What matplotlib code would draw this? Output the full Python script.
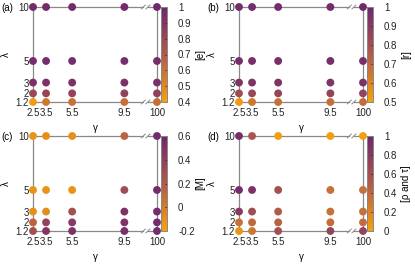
import matplotlib
matplotlib.use("Agg")
import matplotlib.pyplot as plt
import numpy as np
from matplotlib.colors import LinearSegmentedColormap, Normalize
from matplotlib.cm import ScalarMappable
import matplotlib.transforms as mtransforms

plt.rcParams['font.family'] = ['Liberation Sans', 'DejaVu Sans']

gamma_labels = ["2.5", "3.5", "5.5", "9.5", "100"]
gamma_pos = [2.5, 3.5, 5.5, 9.5, 12.0]
lam_vals = [1.2, 2, 3, 5, 10]
lam_labels = ["1.2", "2", "3", "5", "10"]

# rows: lambda = 1.2, 2, 3, 5, 10 ; columns: gamma = 2.5, 3.5, 5.5, 9.5, 100
vals_e = [[0.43, 0.58, 0.60, 0.61, 0.62],
          [0.80, 0.82, 0.83, 0.84, 0.85],
          [0.93, 0.93, 0.93, 0.93, 0.94],
          [0.96, 0.96, 0.96, 0.96, 0.96],
          [0.97, 0.97, 0.97, 0.97, 0.98]]
vals_r = [[0.53, 0.65, 0.67, 0.68, 0.68],
          [0.82, 0.84, 0.85, 0.86, 0.86],
          [0.93, 0.93, 0.93, 0.93, 0.94],
          [0.96, 0.96, 0.96, 0.96, 0.96],
          [0.97, 0.97, 0.97, 0.97, 0.98]]
vals_M = [[0.28, 0.48, 0.50, 0.52, 0.55],
          [0.15, 0.38, 0.45, 0.50, 0.55],
          [-0.10, -0.08, 0.28, 0.50, 0.55],
          [-0.12, -0.12, -0.12, 0.30, 0.55],
          [-0.12, -0.10, -0.10, 0.15, 0.55]]
vals_rt = [[0.10, 0.30, 0.60, 0.72, 0.72],
           [0.35, 0.40, 0.45, 0.38, 0.38],
           [0.80, 0.62, 0.50, 0.35, 0.35],
           [0.92, 0.88, 0.60, 0.35, 0.35],
           [0.93, 0.55, 0.03, 0.03, 0.03]]

panels = [
    ("(a)", vals_e, (0.4, 1.0), [0.4, 0.5, 0.6, 0.7, 0.8, 0.9, 1.0], "[e]"),
    ("(b)", vals_r, (0.5, 1.0), [0.5, 0.6, 0.7, 0.8, 0.9, 1.0], "[r]"),
    ("(c)", vals_M, (-0.2, 0.6), [-0.2, 0, 0.2, 0.4, 0.6], "[M]"),
    ("(d)", vals_rt, (0.0, 1.0), [0, 0.2, 0.4, 0.6, 0.8, 1.0], "[ρ and τ]"),
]

cmap = LinearSegmentedColormap.from_list(
    "op", [(0.0, "#f7a20a"), (0.5, "#b25a4a"), (1.0, "#6c2670")])

W, H = 415, 264
fig = plt.figure(figsize=(W / 100, H / 100), dpi=100)

lefts = [33, 239, 33, 239]
tops = [7, 7, 136, 136]
aw, ah = 124, 95
grey = "#888888"

def fmt(v):
    s = ("%.1f" % v).rstrip('0').rstrip('.')
    if s == "-0":
        s = "0"
    return s

for i, (lab, vals, lim, cticks, clab) in enumerate(panels):
    L, T = lefts[i], tops[i]
    ax = fig.add_axes([L / W, 1 - (T + ah) / H, aw / W, ah / H])
    ax.set_xlim(2.5, 12.0)
    ax.set_ylim(1.2, 10)
    for s in ax.spines.values():
        s.set_visible(False)
    ax.patch.set_visible(False)
    norm = Normalize(*lim)
    X, Y = np.meshgrid(gamma_pos, lam_vals)
    ax.scatter(X.ravel(), Y.ravel(), c=np.array(vals).ravel(), cmap=cmap,
               norm=norm, s=32, edgecolors='none', clip_on=False, zorder=3)
    # frame with broken top/bottom
    ax.plot([0, 0], [0, 1], transform=ax.transAxes, color=grey, lw=0.9,
            clip_on=False, zorder=2)
    ax.plot([1, 1], [0, 1], transform=ax.transAxes, color=grey, lw=0.9,
            clip_on=False, zorder=2)
    tr = mtransforms.blended_transform_factory(ax.transData, ax.transAxes)
    b1, b2 = 10.95, 11.3
    for yy in (0, 1):
        ax.plot([2.5, b1], [yy, yy], transform=tr, color=grey, lw=0.9,
                clip_on=False, zorder=2)
        ax.plot([b2, 12.0], [yy, yy], transform=tr, color=grey, lw=0.9,
                clip_on=False, zorder=2)
        for bx in (b1, b2):
            ax.plot([bx - 0.15, bx + 0.15], [yy - 0.02, yy + 0.02],
                    transform=tr, color=grey, lw=0.7, clip_on=False, zorder=2)
    ax.set_xticks(gamma_pos)
    ax.set_xticklabels(gamma_labels)
    ax.set_yticks(lam_vals)
    ax.set_yticklabels(lam_labels)
    ax.tick_params(length=0, labelsize=7, pad=4, colors="#222222")
    ax.tick_params(axis='y', pad=3)
    ax.set_xlabel("γ", fontsize=7)
    ax.xaxis.set_label_coords(62 / aw, -21 / ah)
    ax.set_ylabel("λ", fontsize=7)
    ax.yaxis.set_label_coords(-22 / aw, 0.5)
    fig.text((L - 32) / W, 1 - (T + 1) / H, lab, fontsize=7, ha='left',
             va='center')

    cax = fig.add_axes([(L + 128) / W, 1 - (T + ah) / H, 6 / W, ah / H])
    cb = fig.colorbar(ScalarMappable(norm=norm, cmap=cmap), cax=cax)
    cb.outline.set_edgecolor(grey)
    cb.outline.set_linewidth(0.7)
    cb.set_ticks(cticks)
    cb.set_ticklabels([fmt(v) for v in cticks])
    cax.tick_params(labelsize=7, length=1.5, width=0.5, direction='in',
                    pad=8, colors="#222222")
    cb.set_label(clab, fontsize=7)
    cax.yaxis.set_label_coords(34 / 6, 0.5)

fig.savefig("out.png", dpi=100)
